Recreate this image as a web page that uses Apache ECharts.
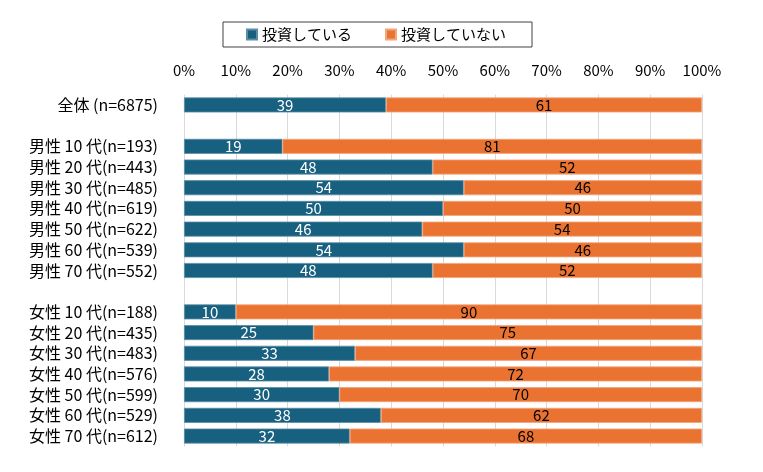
<!DOCTYPE html>
<html>
<head>
    <meta charset="utf-8">
    <script src="https://cdn.jsdelivr.net/npm/echarts@6/dist/echarts.min.js"></script>
    <style>
        html, body { margin: 0; padding: 0; background: #fff; }
    </style>
</head>
<body>
<div id="main" style="width: 763px;height:472px;"></div>
<script type="text/javascript">
    // 区分（空文字は空行）
    const categories = [
        '全体 (n=6875)', '',
        '男性 10 代(n=193)', '男性 20 代(n=443)', '男性 30 代(n=485)', '男性 40 代(n=619)',
        '男性 50 代(n=622)', '男性 60 代(n=539)', '男性 70 代(n=552)', '',
        '女性 10 代(n=188)', '女性 20 代(n=435)', '女性 30 代(n=483)', '女性 40 代(n=576)',
        '女性 50 代(n=599)', '女性 60 代(n=529)', '女性 70 代(n=612)'
    ];
    const investing = [39, null, 19, 48, 54, 50, 46, 54, 48, null, 10, 25, 33, 28, 30, 38, 32];
    const notInvesting = [61, null, 81, 52, 46, 50, 54, 46, 52, null, 90, 75, 67, 72, 70, 62, 68];
    const seriesNames = ['投資している', '投資していない'];
    const xTicks = [0, 10, 20, 30, 40, 50, 60, 70, 80, 90, 100];

    const font = '"Noto Sans CJK JP", sans-serif';
    const myChart = echarts.init(document.getElementById('main'));

    const option = {
        animation: false,
        textStyle: { fontFamily: font },
        legend: {
            data: seriesNames,
            top: 22,
            left: 223,
            itemWidth: 10,
            itemHeight: 10,
            itemGap: 33,
            icon: 'rect',
            borderColor: '#404040',
            borderWidth: 1,
            padding: [5, 26, 5, 23],
            textStyle: { fontSize: 15, color: '#000', fontFamily: font }
        },
        grid: {
            left: 184,
            right: 61,
            top: 94.6,
            bottom: 25.6,
            containLabel: false
        },
        xAxis: {
            type: 'value',
            position: 'top',
            min: xTicks[0],
            max: xTicks[xTicks.length - 1],
            interval: 10,
            axisLine: { show: false },
            axisTick: { show: false },
            axisLabel: {
                formatter: '{value}%',
                fontSize: 15,
                color: '#000',
                margin: 17,
                fontFamily: font
            },
            splitLine: { lineStyle: { color: '#d9d9d9', width: 1 } }
        },
        yAxis: {
            type: 'category',
            inverse: true,
            data: categories,
            axisLine: { show: false },
            axisTick: { show: false },
            axisLabel: {
                interval: 0,
                fontSize: 16,
                color: '#000',
                margin: 26,
                fontFamily: font
            }
        },
        series: [
            {
                name: seriesNames[0],
                type: 'bar',
                stack: 'total',
                barWidth: 15,
                data: investing,
                itemStyle: { color: '#17607f', borderColor: '#5c8ea6', borderWidth: 0.8 },
                label: {
                    show: true,
                    position: 'inside',
                    color: '#fff',
                    fontSize: 15,
                    fontFamily: font
                }
            },
            {
                name: seriesNames[1],
                type: 'bar',
                stack: 'total',
                barWidth: 15,
                data: notInvesting,
                itemStyle: { color: '#eb7332', borderColor: '#f2a67c', borderWidth: 0.8 },
                label: {
                    show: true,
                    position: 'inside',
                    color: '#000',
                    fontSize: 15,
                    fontFamily: font
                }
            }
        ]
    };

    myChart.setOption(option);
</script>
</body>
</html>
